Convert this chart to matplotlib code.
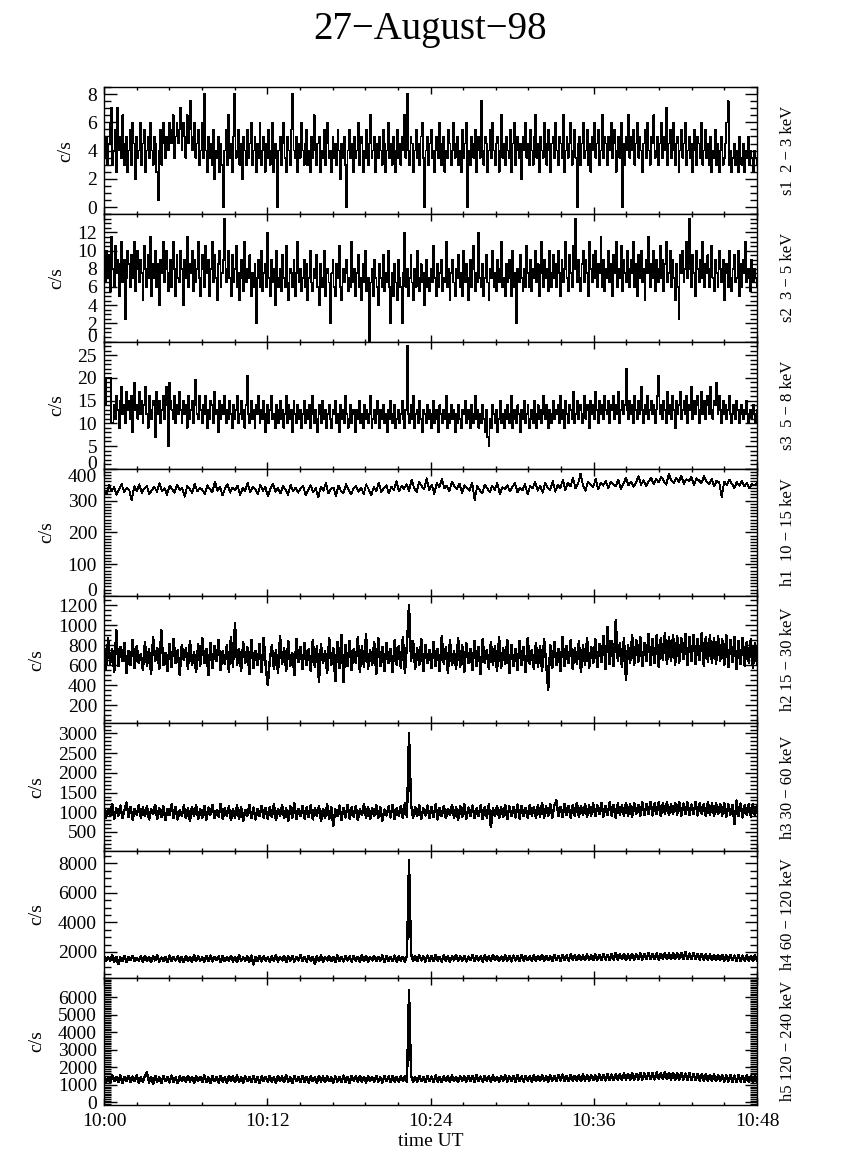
import numpy as np
import matplotlib
matplotlib.use("Agg")
import matplotlib.pyplot as plt
from matplotlib.ticker import FixedLocator, MultipleLocator

plt.rcParams['font.family'] = ['Liberation Serif', 'DejaVu Serif']

title = "27\u2212August\u221298"
time_ticks = [0, 12, 24, 36, 48]
time_labels = ["10:00", "10:12", "10:24", "10:36", "10:48"]
xlabel = "time UT"
ylabel = "c/s"
band_labels = ["s1  2 \u2212 3 keV", "s2  3 \u2212 5 keV", "s3  5 \u2212 8 keV",
               "h1  10 \u2212 15 keV", "h2 15 \u2212 30 keV", "h3 30 \u2212 60 keV",
               "h4 60 \u2212 120 keV", "h5 120 \u2212 240 keV"]

s1 = [4, 3.5, 5, 3, 4.5, 6, 7, 3, 4, 5.5, 2.5, 7, 4, 5, 3.5, 6.5, 3, 4.5, 5, 2.5,
      4, 5.5, 3, 6, 4.5, 2, 5, 3.5, 4, 6, 3, 4.5, 5.5, 2.5, 4, 5, 3.5, 6, 4, 3,
      5, 4.5, 2.5, 0.5, 4, 5.5, 3, 6, 4.5, 3.5, 5, 4, 6, 5.5, 4.5, 6.5, 3.5, 5, 6, 4.5,
      5.5, 7, 4, 6, 5, 3.5, 6.5, 4.5, 5.5, 7.5, 4, 5, 6, 3.5, 4.5, 5.5, 3, 4, 6, 3.5,
      8, 4, 2.5, 5, 3.5, 4.5, 3, 5.5, 2, 4, 3.5, 5, 2.5, 4.5, 3, 0, 4, 5.5, 3, 6.5,
      3.5, 4.5, 2.5, 5, 8, 3.5, 4, 5.5, 3, 4.5, 2, 5, 4, 3, 5.5, 3.5, 4.5, 6, 3, 4,
      5, 2.5, 4.5, 3.5, 6, 3, 4, 5, 2.5, 4.5, 3.5, 5.5, 3, 4, 6, 2.5, 4.5, 3.5, 0, 4,
      5, 3, 4.5, 6, 3.5, 2.5, 5, 4, 3, 5.5, 8, 4, 3.5, 5, 2.5, 4.5, 3.5, 6, 4, 3,
      4.5, 5.5, 3, 4, 2.5, 5, 3.5, 6.5, 4, 3, 4.5, 5, 2.5, 4, 3.5, 5.5, 3, 4.5, 6, 3.5,
      4, 2.5, 5, 3.5, 4.5, 3, 5.5, 4, 2, 4.5, 3.5, 5, 3, 0, 4, 5.5, 3.5, 4.5, 2.5, 5,
      3.5, 4, 6, 3, 4.5, 5, 2.5, 4, 3.5, 5.5, 3, 4.5, 6.5, 3.5, 4, 5, 2.5, 4.5, 3.5, 5,
      4, 3, 5.5, 4.5, 2.5, 4, 6, 3.5, 4.5, 3, 5, 4, 2.5, 5.5, 3.5, 4.5, 3, 5, 4, 6.5,
      3.5, 8, 4, 3, 5, 4.5, 2.5, 4, 5.5, 3.5, 4.5, 3, 5, 6, 3.5, 0, 4, 5, 3, 4.5,
      5.5, 3.5, 4, 2.5, 5, 4, 3.5, 6, 3, 4.5, 5, 2.5, 4, 3.5, 5.5, 4.5, 3, 4, 6, 3.5,
      4.5, 5, 3, 4, 2.5, 5.5, 3.5, 4.5, 6, 0, 4, 3, 5, 4.5, 3.5, 5.5, 2.5, 4, 5, 3.5,
      7.5, 4, 3, 5, 4.5, 2.5, 4, 5.5, 3.5, 6, 4, 3, 4.5, 5, 2.5, 4, 6.5, 3.5, 4.5, 3,
      5, 4, 3.5, 5.5, 2.5, 4.5, 6, 3, 4, 5, 3.5, 4.5, 2, 5, 4, 6, 3.5, 4.5, 3, 5.5,
      4, 3, 5, 6.5, 3.5, 4.5, 2.5, 5, 4, 3.5, 6, 4.5, 3, 5.5, 4, 2.5, 4.5, 5, 3.5, 6,
      4, 3, 5, 4.5, 3.5, 6.5, 2.5, 4, 5, 3.5, 4.5, 6, 3, 4, 5.5, 3.5, 0, 4.5, 5, 3,
      4.5, 6, 3.5, 4, 5.5, 3, 4.5, 2.5, 5, 4, 6, 3.5, 4.5, 5.5, 3, 4, 6.5, 3.5, 5, 4.5,
      3, 5, 4, 6, 3.5, 4.5, 5.5, 2.5, 4, 5, 3.5, 6, 0, 4.5, 3, 5, 4, 6.5, 3.5, 5,
      4, 5.5, 3, 4.5, 6, 3.5, 5, 4, 2.5, 4.5, 5.5, 3.5, 6, 4, 3, 5, 4.5, 6.5, 3.5, 4,
      5, 3, 4.5, 6, 3.5, 5, 4, 7, 3, 4.5, 5.5, 3.5, 4, 6, 3, 4.5, 5, 2.5, 4, 5.5,
      3.5, 4.5, 6, 3, 4, 5, 3.5, 4.5, 2.5, 5.5, 4, 3, 5, 4.5, 3.5, 6, 3, 4, 5.5, 3.5,
      4.5, 3, 5, 2.5, 4, 3.5, 5.5, 3, 4.5, 2.5, 4, 5, 3, 3.5, 4.5, 6, 7.5, 3, 4, 2.5,
      3.5, 4.5, 3, 4, 2.5, 5, 3.5, 3, 4.5, 2.5, 4, 3.5, 5, 3, 4, 3.5, 2.5, 4, 3.5, 3]

s2 = [8, 6.5, 10, 7, 9.5, 5.5, 11.5, 8, 6, 10.5, 7.5, 9, 5, 8.5, 11, 6.5, 9, 2.5, 7, 10,
      8.5, 6, 9.5, 7, 11, 5.5, 8, 10, 6.5, 9, 7.5, 4.5, 10.5, 8, 6, 9.5, 7, 11.5, 5, 8.5,
      7, 10, 6, 8.5, 4, 9, 7.5, 11, 6.5, 8, 10, 5.5, 7.5, 9, 6, 11, 8, 5, 9.5, 7,
      6.5, 10, 8, 4, 9, 7, 11.5, 6, 8.5, 7.5, 10, 5.5, 9, 6.5, 8, 11, 7, 5, 9.5, 8,
      6, 10.5, 7.5, 9, 5, 8, 11, 6.5, 9.5, 7, 4.5, 8.5, 10, 6, 7.5, 9, 13.5, 6.5, 8, 10,
      7, 5, 9.5, 6.5, 8, 10.5, 6, 7.5, 4.5, 9, 7, 5.5, 11, 6.5, 8, 7, 9.5, 5, 7.5, 6,
      8.5, 2, 7, 9, 6, 10, 5.5, 7.5, 8.5, 6, 12, 7, 5, 9, 6.5, 8, 4, 10, 7, 6,
      8, 5.5, 9.5, 7, 6, 10.5, 6.5, 4.5, 8, 7.5, 6, 9, 5, 7.5, 11, 6.5, 8, 5.5, 7, 9,
      6, 8.5, 4.5, 7, 10, 6.5, 5.5, 8, 7, 9.5, 6, 4, 8.5, 7, 6, 10, 5, 7.5, 8, 6.5,
      2, 7.5, 9, 6, 5, 8.5, 7, 10.5, 6, 4.5, 8, 6.5, 7.5, 9, 5.5, 7, 6, 11, 6.5, 8,
      5, 7.5, 9.5, 6, 7, 4.5, 8.5, 6.5, 10, 5.5, 7, 0, 6.5, 8, 5, 9, 7, 6, 4, 8.5,
      7, 6, 9.5, 5.5, 7.5, 6.5, 10, 6, 2, 7.5, 5, 8.5, 6.5, 4.5, 9, 7, 6, 2, 7.5, 12,
      6, 8, 5, 7, 9.5, 6.5, 4.5, 8, 6, 10, 7, 5.5, 8.5, 6.5, 7.5, 4, 9, 6, 7, 5.5,
      8, 6.5, 10.5, 7, 5, 8.5, 6, 7.5, 9, 5.5, 7, 6.5, 11, 6, 8, 4.5, 7.5, 9, 6.5, 5,
      8, 7, 9.5, 6, 7.5, 5, 10, 6.5, 8.5, 7, 4.5, 9, 6, 8, 10.5, 5.5, 7.5, 6.5, 12, 7,
      6, 8.5, 5, 7, 9.5, 6.5, 4.5, 8, 7, 10, 6, 7.5, 5.5, 9, 6.5, 8, 11, 6, 7, 5,
      8.5, 6.5, 9, 7, 5, 10, 6, 7.5, 2, 8, 6.5, 9.5, 7, 5.5, 8, 6, 10.5, 7.5, 6, 9,
      5.5, 8, 7, 10, 6.5, 8.5, 5, 7.5, 11, 6, 9, 7, 8, 5.5, 10, 7.5, 6, 9.5, 7, 8.5,
      6, 10, 7.5, 5, 9, 6.5, 8, 11, 7, 5.5, 9.5, 7.5, 6, 10.5, 8, 13.5, 6.5, 9, 7, 5.5,
      8.5, 10, 6.5, 9, 7.5, 5, 11, 8, 6.5, 9.5, 7, 10, 6, 8.5, 7.5, 11.5, 6, 9, 5.5, 8,
      7, 10, 6.5, 8.5, 5, 9.5, 7.5, 11, 6, 8, 7, 10.5, 5.5, 9, 7.5, 6.5, 10, 8, 6, 9,
      7.5, 11, 6, 8.5, 5, 9.5, 7, 10, 6.5, 8, 4.5, 9, 7.5, 11.5, 6, 8.5, 7, 10, 5.5, 9,
      8, 6.5, 10.5, 7, 9, 5.5, 8.5, 11, 6.5, 7.5, 10, 6, 9, 7, 4.5, 8.5, 6, 2.5, 9.5, 7.5,
      10, 6.5, 8, 11, 7, 13.5, 8, 6, 9.5, 7.5, 5, 10, 8, 6.5, 9, 7, 11, 6, 8.5, 7.5,
      9.5, 6, 8, 10.5, 7, 5.5, 9, 7.5, 6, 10, 8, 6.5, 9, 4.5, 7.5, 8.5, 6, 10, 7, 5.5,
      8, 9.5, 6.5, 7, 10, 5, 8.5, 6, 9, 7.5, 11, 6.5, 8, 7, 5.5, 9, 6.5, 8, 7, 6]

s3 = [12, 14, 20, 20, 20, 20, 10, 10, 14, 11, 16, 13, 9, 15, 18, 12, 14, 10, 17, 13,
      15, 11, 16, 8, 19, 13, 14, 11, 17, 12, 15, 10, 14, 18, 12, 9, 16, 13, 11, 15,
      14, 7, 17, 12, 15, 10, 13, 16, 11, 14, 18, 5, 19, 15, 13, 11, 16, 10, 14, 12,
      17, 13, 10, 15, 12, 14, 9, 16, 11, 13, 15, 10, 14, 19.5, 12, 11, 16, 13, 10, 14,
      12, 16, 9, 13, 11, 15, 14, 10, 17, 12, 13, 8, 15, 11, 14, 12, 16, 10, 13, 11,
      15, 12, 9, 14, 11, 13, 16, 10, 12, 15, 11, 13, 9, 14, 20.5, 12, 10, 15, 11, 13,
      9, 14, 12, 16, 10, 13, 11, 15, 8, 12, 14, 10, 13, 16, 11, 12, 9, 14, 13, 10,
      15, 11, 13, 9, 12, 16, 10, 14, 11, 13, 8, 15, 12, 10, 14, 11, 13, 9, 12, 15,
      10, 13, 11, 14, 9, 12, 16, 10, 13, 11, 8, 14, 12, 10, 15, 11, 13, 9, 12, 14,
      11, 9, 13, 12, 15, 10, 12, 8, 14, 11, 13, 10, 16, 12, 9, 11, 14, 10, 13, 12,
      8, 13, 11, 15, 10, 12, 9, 14, 11, 13, 10, 12, 16, 9, 11, 13, 10, 15, 12, 9,
      13, 11, 14, 10, 12, 8, 13, 11, 15, 10, 12, 14, 9, 11, 13, 10, 12, 15, 11, 9,
      13, 27, 12, 10, 14, 11, 16, 9, 12, 13, 10, 15, 11, 8, 13, 12, 10, 14, 11, 13,
      9, 12, 15, 10, 13, 11, 8, 14, 12, 10, 13, 11, 16, 9, 12, 10, 14, 11, 13, 8,
      12, 10, 14, 11, 9, 13, 12, 15, 10, 11, 13, 9, 14, 12, 10, 16, 11, 13, 9, 12,
      10, 14, 11, 8, 13, 7, 5, 11, 9, 14, 12, 10, 13, 8, 11, 15, 10, 12, 9, 13,
      11, 14, 10, 12, 16, 9, 13, 11, 10, 14, 12, 8, 13, 11, 15, 10, 12, 14, 9, 11,
      13, 10, 15, 12, 9, 14, 11, 13, 10, 16, 12, 11, 14, 9, 13, 12, 10, 15, 11, 13,
      12, 14, 10, 16, 11, 13, 9, 15, 12, 10, 14, 13, 11, 17, 10, 12, 15, 11, 13, 14,
      10, 12, 16, 11, 14, 13, 9, 15, 12, 14, 11, 17, 13, 10, 15, 12, 14, 11, 16, 13,
      12, 15, 10, 14, 13, 16, 11, 14, 12, 17, 10, 13, 15, 12, 14, 22, 13, 11, 15, 12,
      14, 10, 16, 13, 11, 15, 12, 18, 13, 10, 14, 12, 16, 11, 13, 15, 12, 14, 10, 13,
      16, 20.5, 12, 14, 11, 15, 13, 10, 17, 12, 14, 11, 16, 13, 9, 15, 12, 14, 17, 11,
      13, 15, 12, 16, 10, 14, 13, 18, 11, 15, 12, 14, 16, 10, 13, 17, 12, 15, 11, 14,
      16, 12, 18, 13, 11, 15, 14, 19, 12, 16, 13, 10, 15, 12, 14, 11, 13, 16, 12, 10,
      14, 12, 11, 15, 13, 10, 12, 14, 11, 13, 12, 15, 10, 12, 13, 11, 14, 12, 10, 13]

h1 = [335, 322, 348, 330, 342, 318, 337, 352, 326, 340, 333, 300, 345, 329, 351, 324, 338, 346, 320, 334,
      343, 327, 355, 331, 339, 318, 347, 336, 325, 350, 332, 341, 312, 345, 337, 323, 353, 329, 340, 334,
      321, 348, 336, 327, 360, 330, 343, 316, 338, 352, 325, 341, 333, 347, 318, 339, 331, 355, 326, 344,
      335, 320, 349, 331, 342, 313, 337, 353, 328, 340, 322, 346, 334, 318, 350, 329, 341, 325, 338, 345,
      317, 333, 348, 326, 339, 310, 344, 331, 356, 322, 336, 341, 315, 347, 330, 324, 352, 334, 319, 338,
      345, 328, 340, 321, 351, 335, 316, 343, 330, 357, 326, 339, 348, 322, 344, 333, 361, 329, 346, 337,
      352, 331, 365, 340, 327, 358, 345, 336, 370, 333, 349, 321, 355, 342, 368, 338, 347, 329, 359, 344,
      336, 353, 325, 348, 340, 331, 357, 302, 345, 334, 322, 350, 338, 327, 346, 333, 355, 320, 342, 336,
      348, 329, 343, 355, 326, 340, 333, 352, 319, 345, 338, 360, 331, 347, 325, 356, 341, 334, 362, 328,
      350, 339, 366, 333, 357, 344, 372, 338, 352, 385, 346, 331, 360, 349, 341, 368, 336, 355, 347, 362,
      340, 358, 351, 345, 366, 337, 353, 371, 348, 360, 343, 356, 377, 350, 364, 346, 359, 372, 352, 368,
      357, 375, 362, 350, 383, 365, 356, 371, 359, 378, 353, 367, 361, 374, 349, 370, 363, 355, 376, 360,
      352, 368, 345, 363, 357, 311, 360, 349, 366, 353, 340, 358, 347, 362, 344, 356, 338, 352, 347, 355]

h2 = [800, 560, 870, 610, 760, 530, 950, 590, 780, 640, 820, 520, 740, 600, 850, 570, 790, 620, 710, 550,
      830, 590, 760, 510, 880, 640, 770, 560, 950, 600, 720, 540, 810, 580, 860, 620, 750, 500, 800, 650,
      770, 560, 840, 600, 730, 530, 810, 590, 870, 620, 760, 500, 820, 570, 790, 640, 850, 550, 740, 610,
      800, 530, 880, 580, 1020, 600, 760, 540, 830, 620, 780, 510, 850, 570, 740, 600, 810, 530, 870, 590,
      400, 650, 800, 560, 750, 520, 890, 610, 770, 540, 840, 590, 720, 500, 860, 630, 780, 560, 820, 600,
      760, 540, 850, 580, 790, 430, 810, 620, 740, 520, 870, 600, 770, 440, 830, 570, 900, 430, 800, 590,
      840, 550, 760, 620, 880, 530, 790, 580, 910, 560, 750, 600, 830, 510, 870, 590, 780, 540, 820, 620,
      760, 530, 850, 600, 790, 570, 880, 520, 810, 1200, 640, 840, 560, 770, 600, 860, 540, 800, 620, 750,
      570, 830, 590, 760, 540, 890, 610, 780, 520, 850, 600, 740, 560, 870, 580, 800, 530, 820, 620, 760,
      550, 840, 590, 780, 510, 860, 620, 750, 560, 830, 600, 790, 540, 880, 570, 770, 610, 850, 520, 800,
      590, 760, 550, 840, 600, 780, 530, 870, 610, 750, 560, 820, 580, 790, 540, 860, 620, 350, 800, 570,
      830, 600, 760, 540, 880, 590, 790, 620, 850, 560, 770, 610, 840, 530, 800, 600, 870, 570, 780, 620,
      860, 580, 810, 630, 890, 560, 980, 610, 840, 590, 1050, 640, 820, 580, 870, 450, 800, 620, 900, 600,
      850, 630, 880, 590, 820, 640, 910, 600, 860, 620, 900, 580, 870, 650, 920, 610, 880, 640, 900, 600,
      890, 620, 870, 660, 910, 600, 880, 640, 900, 610, 860, 650, 920, 590, 880, 630, 900, 620, 870, 610,
      890, 640, 860, 600, 900, 580, 850, 630, 880, 560, 840, 610, 870, 590, 830, 620, 860, 570, 820, 600]

h3 = [1150, 860, 1080, 900, 1210, 830, 1100, 920, 1170, 850, 1060, 1250, 880, 1140, 810, 1090, 940, 1180, 860, 1120,
      900, 1160, 820, 1070, 950, 1190, 840, 1110, 880, 1150, 800, 1080, 930, 1200, 860, 1130, 820, 1060, 910, 1170,
      850, 1100, 780, 1140, 900, 1190, 830, 1080, 870, 1160, 810, 1120, 940, 1180, 850, 1050, 890, 1210, 830, 1100,
      920, 1150, 800, 1090, 870, 1170, 840, 1130, 780, 1060, 910, 1190, 850, 1120, 820, 1080, 900, 1160, 860, 1110,
      830, 1140, 880, 1200, 800, 1090, 920, 1170, 850, 1100, 790, 1150, 870, 1230, 830, 1080, 900, 1160, 840, 1120,
      880, 1180, 820, 1100, 910, 1150, 780, 1090, 860, 1200, 830, 1130, 650, 1070, 900, 1170, 810, 1110, 870, 1190,
      840, 1120, 890, 1160, 800, 1080, 930, 1210, 850, 1140, 820, 1100, 900, 1180, 860, 1130, 790, 1070, 920, 1150,
      870, 1190, 830, 1110, 900, 1160, 850, 1240, 880, 3000, 1200, 860, 1130, 900, 1180, 830, 1100, 920, 1170, 860,
      1140, 880, 1200, 820, 1110, 900, 1160, 850, 1090, 930, 1190, 870, 1130, 810, 1150, 890, 1200, 840, 1120, 910,
      1170, 860, 1100, 900, 1180, 830, 1140, 870, 1200, 620, 1110, 900, 1160, 850, 1120, 880, 1190, 820, 1150, 910,
      1130, 870, 1200, 840, 1160, 900, 1110, 860, 1190, 920, 1140, 850, 1180, 890, 1230, 870, 1150, 910, 1200, 860,
      1170, 1300, 900, 1140, 880, 1210, 930, 1160, 870, 1190, 910, 1240, 890, 1150, 940, 1200, 880, 1170, 920, 1220,
      900, 1180, 950, 1230, 890, 1160, 930, 1250, 910, 1190, 870, 1220, 940, 1170, 900, 1240, 920, 1200, 880, 1230,
      950, 1190, 910, 1250, 930, 1210, 960, 1270, 920, 1230, 950, 1260, 900, 1220, 970, 1250, 930, 1200, 960, 1240,
      940, 1270, 910, 1220, 960, 1250, 930, 1200, 950, 1260, 920, 1230, 960, 1210, 900, 1250, 940, 1220, 910, 1240,
      950, 1210, 920, 1230, 880, 1200, 940, 1190, 700, 1300, 910, 1220, 870, 1180, 930, 1210, 890, 1200, 920, 1180]

h4 = [1700, 1380, 1650, 1420, 1760, 1350, 1680, 1160, 1620, 1400, 1720, 1330, 1660, 1450, 1740, 1370, 1610, 1410, 1690, 1340,
      1730, 1390, 1640, 1300, 1700, 1430, 1760, 1360, 1620, 1400, 1680, 1320, 1750, 1380, 1650, 1420, 1710, 1350, 1670, 1300,
      1720, 1400, 1640, 1340, 1780, 1370, 1690, 1420, 1630, 1330, 1710, 1390, 1750, 1360, 1660, 1440, 1700, 1310, 1740, 1380,
      1650, 1410, 1720, 1350, 1680, 1300, 1760, 1390, 1630, 1420, 1700, 1340, 1750, 1150, 1670, 1400, 1730, 1360, 1690, 1420,
      1640, 1330, 1710, 1390, 1770, 1360, 1660, 1430, 1720, 1300, 1690, 1400, 1740, 1350, 1650, 1420, 1800, 1370, 1680, 1340,
      1730, 1410, 1660, 1200, 1700, 1380, 1750, 1340, 1640, 1430, 1720, 1370, 1680, 1300, 1760, 1400, 1650, 1360, 1710, 1420,
      1690, 1350, 1740, 1400, 1670, 1330, 1780, 1390, 1700, 1360, 1650, 1430, 1730, 1370, 1680, 1410, 1760, 1340, 1720, 1400,
      1660, 1380, 1750, 1350, 1700, 1420, 1680, 1360, 1740, 8200, 1850, 1400, 1720, 1370, 1790, 1430, 1690, 1350, 1760, 1410,
      1700, 1380, 1780, 1420, 1660, 1360, 1750, 1400, 1720, 1340, 1690, 1430, 1800, 1370, 1710, 1410, 1740, 1360, 1680, 1440,
      1770, 1390, 1720, 1430, 1690, 1350, 1760, 1410, 1700, 1380, 1790, 1440, 1730, 1370, 1680, 1420, 1770, 1400, 1720, 1360,
      1750, 1430, 1700, 1390, 1780, 1410, 1730, 1440, 1690, 1380, 1760, 1420, 1720, 1450, 1800, 1400, 1740, 1430, 1710, 1390,
      1790, 1440, 1740, 1410, 1810, 1460, 1760, 1420, 1830, 1450, 1770, 1430, 1800, 1470, 1750, 1440, 1820, 1460, 1780, 1430,
      1840, 1470, 1790, 1450, 1860, 1480, 1810, 1460, 1850, 1490, 1950, 1470, 1830, 1500, 1870, 1460, 1820, 1490, 1880, 1480,
      1860, 1510, 1900, 1490, 1850, 1530, 1920, 1500, 1880, 1520, 1910, 1490, 1870, 1540, 1930, 1510, 1890, 1530, 1920, 1500,
      1900, 1520, 1950, 1510, 2000, 1540, 1890, 1500, 1930, 1520, 1880, 1490, 1860, 1470, 1840, 1480, 1820, 1460, 1800, 1450,
      1790, 1440, 1810, 1420, 1770, 1400, 1800, 1430, 1760, 1410, 1790, 1390, 1750, 1420, 1780, 1400, 1740, 1380, 1770, 1410]

h5 = [1500, 1180, 1420, 1120, 1560, 1210, 1460, 1150, 1530, 1100, 1440, 1230, 1510, 1160, 1470, 1200, 1550, 1140, 1430, 1190,
      1490, 1700, 1130, 1460, 1050, 1520, 1180, 1440, 1110, 1500, 1200, 1450, 1140, 1530, 1170, 1420, 1100, 1480, 1220, 1460,
      1150, 1510, 1190, 1430, 1120, 1490, 1210, 1460, 1140, 1540, 1170, 1420, 1100, 1480, 1200, 1450, 1130, 1520, 1180, 1440,
      1110, 1500, 1220, 1470, 1150, 1530, 1190, 1430, 1120, 1490, 1200, 1460, 1140, 1510, 1170, 1440, 1100, 1480, 1210, 1450,
      1160, 1520, 1180, 1430, 1130, 1500, 1220, 1470, 1150, 1540, 1190, 1420, 1110, 1490, 1200, 1460, 1140, 1510, 1170, 1440,
      1120, 1480, 1210, 1450, 1090, 1520, 1180, 1470, 1140, 1500, 1200, 1430, 1130, 1490, 1190, 1460, 1150, 1530, 1170, 1440,
      1110, 1500, 1220, 1470, 1160, 1520, 1180, 1440, 1130, 1490, 1210, 1460, 1150, 1510, 1190, 1430, 1120, 1500, 1200, 1480,
      1140, 1520, 1180, 1450, 1160, 1490, 1210, 1470, 1150, 6400, 1530, 1190, 1460, 1170, 1510, 1200, 1440, 1150, 1500, 1220,
      1470, 1160, 1530, 1190, 1450, 1140, 1510, 1210, 1480, 1170, 1540, 1200, 1460, 1150, 1500, 1230, 1470, 1180, 1520, 1210,
      1490, 1160, 1550, 1200, 1470, 1170, 1510, 1220, 1480, 1150, 1530, 1210, 1460, 1180, 1500, 1230, 1560, 1190, 1480, 1220,
      1510, 1170, 1540, 1210, 1480, 1190, 1520, 1230, 1490, 1180, 1550, 1220, 1500, 1200, 1530, 1240, 1480, 1190, 1560, 1230,
      1500, 1210, 1540, 1250, 1590, 1220, 1520, 1200, 1560, 1240, 1510, 1230, 1550, 1210, 1580, 1250, 1530, 1220, 1570, 1260,
      1540, 1230, 1590, 1270, 1560, 1250, 1610, 1280, 1580, 1260, 1620, 1290, 1600, 1270, 1640, 1300, 1610, 1280, 1650, 1290,
      1630, 1310, 1670, 1300, 1650, 1320, 1690, 1330, 1660, 1310, 1700, 1340, 1680, 1320, 1710, 1330, 1670, 1310, 1690, 1300,
      1660, 1300, 1680, 1290, 1640, 1280, 1660, 1270, 1620, 1260, 1630, 1250, 1600, 1240, 1610, 1230, 1580, 1220, 1590, 1210,
      1560, 1200, 1570, 1190, 1540, 1180, 1560, 1170, 1530, 1160, 1550, 1180, 1520, 1150, 1540, 1170, 1510, 1160, 1530, 1180]

series = [s1, s2, s3, h1, h2, h3, h4, h5]
steps = [True, True, True, False, False, False, False, False]
widths = [0.5, 0.5, 0.5, 0.6, 1.0, 1.0, 1.0, 1.0]
ylims = [(-0.5, 8.5), (0, 14), (0, 28), (0, 400), (20, 1290), (30, 3260), (250, 8880), (-150, 7100)]
yticks = [[0, 2, 4, 6, 8], [0, 2, 4, 6, 8, 10, 12], [0, 5, 10, 15, 20, 25],
          [0, 100, 200, 300, 400], [200, 400, 600, 800, 1000, 1200],
          [500, 1000, 1500, 2000, 2500, 3000], [2000, 4000, 6000, 8000],
          [0, 1000, 2000, 3000, 4000, 5000, 6000]]
yminor = [0.5, 0.5, 1, 10, 50, 100, 500, 100]

W, H = 851, 1165
fig = plt.figure(figsize=(W / 100, H / 100), dpi=100)

left = 104 / W
width = 653 / W
top = 87 / H
ph = 127.25 / H

fig.text(430 / W, 1 - 30 / H, title, ha='center', va='center', fontsize=28)

for i, data in enumerate(series):
    bottom = 1 - top - (i + 1) * ph
    ax = fig.add_axes([left, bottom, width, ph])
    y = np.asarray(data, dtype=float)
    t = np.linspace(0, 48, len(y))
    ax.plot(t, y, color='black', lw=widths[i],
            drawstyle='steps-mid' if steps[i] else 'default',
            antialiased=False)
    ax.set_xlim(0, 48)
    ax.set_ylim(*ylims[i])
    ax.xaxis.set_major_locator(FixedLocator(time_ticks))
    ax.xaxis.set_minor_locator(MultipleLocator(2.4))
    ax.yaxis.set_major_locator(FixedLocator(yticks[i]))
    ax.yaxis.set_minor_locator(MultipleLocator(yminor[i]))
    ax.set_yticklabels([str(v) for v in yticks[i]])
    ax.tick_params(axis='both', which='both', direction='in', top=True, right=True,
                   width=1, colors='black')
    ax.tick_params(axis='y', which='major', length=9, labelsize=14, pad=5)
    ax.tick_params(axis='y', which='minor', length=5)
    ax.tick_params(axis='x', which='major', length=5, labelsize=14, pad=6)
    ax.tick_params(axis='x', which='minor', length=2.5)
    for sp in ax.spines.values():
        sp.set_linewidth(1.0)
    labels = ax.get_yticklabels()
    if yticks[i][0] == ylims[i][0]:
        labels[0].set_va('baseline')
    if yticks[i][-1] == ylims[i][1]:
        labels[-1].set_va('top')
    ax.set_ylabel(ylabel, fontsize=14, labelpad=9)
    if i == len(series) - 1:
        ax.set_xticklabels(time_labels)
        ax.set_xlabel(xlabel, fontsize=14, labelpad=2)
    else:
        ax.set_xticklabels([])
    fig.text(788 / W, bottom + ph / 2, band_labels[i], rotation=90,
             ha='center', va='center', fontsize=12)

fig.savefig("out.png", dpi=100)
